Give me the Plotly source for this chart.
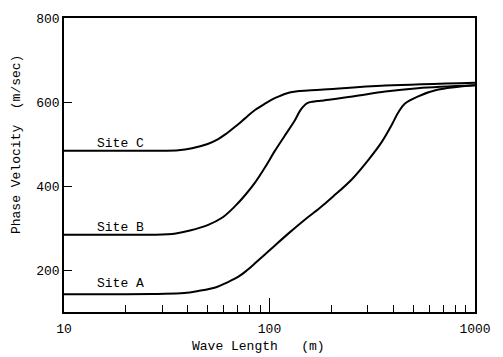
import math
import plotly.graph_objects as go

# Wave length (m) and phase velocity (m/sec)
site_a_x = [10, 20, 28.6, 38.4, 45, 55, 62, 70.6, 78, 85, 95, 106, 125, 147, 175, 204, 254, 305, 352, 393, 423, 455, 526, 655, 1000]
site_a_y = [142, 142, 143, 145, 150, 159, 170, 184, 200, 216, 237, 258, 289, 318, 347, 375, 418, 464, 505, 545, 575, 596, 613, 629, 640]

site_b_x = [10, 20, 28, 35, 41, 50, 59, 68, 76, 85, 95, 106, 118, 132, 142, 152, 165, 177, 254, 366, 526, 1000]
site_b_y = [284, 284, 284, 287, 294, 307, 325, 352, 378, 408, 444, 483, 518, 554, 582, 597, 601, 603, 613, 625, 633, 640]

site_c_x = [10, 20, 30, 36, 42, 50, 56, 61, 68, 76, 85, 95, 106, 122, 140, 177, 366, 1000]
site_c_y = [484, 484, 484, 485, 490, 500, 511, 523, 541, 561, 581, 596, 609, 621, 626, 629, 639, 646]

site_names = ["Site A", "Site B", "Site C"]
label_y = [169, 301, 502]
label_x = 14.2

y_tick_vals = [200, 400, 600, 800]
x_major_ticks = [10, 100, 1000]
x_minor_ticks = [20, 30, 40, 50, 60, 70, 80, 90, 200, 300, 400, 500, 600, 700, 800, 900]

x_title = "Wave Length   (m)"
y_title = "Phase Velocity  (m/sec)"

FONT = "Liberation Mono"

fig = go.Figure()
for xs, ys in [(site_a_x, site_a_y), (site_b_x, site_b_y), (site_c_x, site_c_y)]:
    fig.add_trace(go.Scatter(x=xs, y=ys, mode="lines",
                             line=dict(color="black", width=2, shape="spline", smoothing=1.0),
                             showlegend=False, hoverinfo="skip"))

for name, ly in zip(site_names, label_y):
    fig.add_annotation(x=math.log10(label_x), y=ly, text=name, showarrow=False,
                       xanchor="left", yanchor="middle",
                       font=dict(family=FONT, size=13, color="black"))

# axis titles (offset from centre as in the reference)
fig.add_annotation(xref="paper", yref="paper", x=0.474, y=-0.117, text=x_title,
                   showarrow=False, xanchor="center", yanchor="middle",
                   font=dict(family=FONT, size=13, color="black"))
fig.add_annotation(xref="paper", yref="paper", x=-0.116, y=0.569, text=y_title,
                   showarrow=False, xanchor="center", yanchor="middle", textangle=-90,
                   font=dict(family=FONT, size=13, color="black"))

fig.update_layout(
    width=503, height=357,
    margin=dict(l=64, r=17, t=16, b=45),
    paper_bgcolor="white", plot_bgcolor="white",
    font=dict(family=FONT, size=13, color="black"),
)
fig.update_xaxes(
    type="log", range=[1, 3],
    tickvals=x_major_ticks, ticktext=[str(v) for v in x_major_ticks],
    ticks="inside", ticklen=14, tickwidth=1.3, tickcolor="black",
    minor=dict(tickvals=x_minor_ticks, ticks="inside", ticklen=7, tickwidth=1.3, tickcolor="black"),
    showline=True, linecolor="black", linewidth=1.5, mirror=True,
    showgrid=False, zeroline=False,
    tickfont=dict(family=FONT, size=13),
    ticklabelstandoff=4,
)
fig.update_yaxes(
    range=[100, 800],
    tickvals=y_tick_vals,
    ticks="inside", ticklen=8, tickwidth=1.3, tickcolor="black",
    showline=True, linecolor="black", linewidth=1.5, mirror=True,
    showgrid=False, zeroline=False,
    tickfont=dict(family=FONT, size=13),
)

fig.write_html("out.html", config={"displayModeBar": False},
               post_script="document.body.style.margin='0';document.body.style.overflow='hidden';")
